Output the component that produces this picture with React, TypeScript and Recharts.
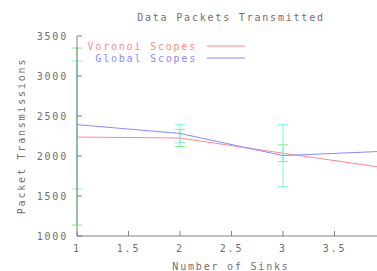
import React from 'react';
import { LineChart, Line, XAxis, YAxis, ErrorBar } from 'recharts';

// Number of sinks
const SINKS = [1, 2, 3, 4];
// mean packet transmissions
const VORONOI = [2237, 2225, 2035, 1850];
const GLOBAL = [2392, 2282, 2005, 2060];
// error bar extents [below, above] the mean
const VORONOI_ERR: [number, number][] = [[1100, 1113], [108, 108], [104, 104], [0, 0]];
const GLOBAL_ERR: [number, number][] = [[805, 795], [116, 114], [388, 391], [0, 0]];

const X_TICKS = [1, 1.5, 2, 2.5, 3, 3.5];
const Y_TICKS = [1000, 1500, 2000, 2500, 3000, 3500];

const SERIES = [
    { name: 'Voronoi Scopes', color: '#ff8a8a' },
    { name: 'Global Scopes', color: '#8a8aff' },
];

const data = SINKS.map((x, i) => ({
    x,
    voronoi: VORONOI[i],
    global: GLOBAL[i],
    vErr: VORONOI_ERR[i],
    gErr: GLOBAL_ERR[i],
}));

const FONT = '"DejaVu Sans Mono", monospace';
const TEXT = '#707070';
const AXIS = '#808080';

const BottomTick = (props: any) => {
    const { x, y, payload } = props;
    return (
        <g>
            <line x1={x} y1={y} x2={x} y2={y - 5} stroke={AXIS} />
            <text x={x} y={y + 16} textAnchor="middle" fill={TEXT} fontSize={10} fontFamily={FONT} letterSpacing={1.8}>
                {payload.value}
            </text>
        </g>
    );
};

const TopTick = (props: any) => {
    const { x, y } = props;
    return <line x1={x} y1={y} x2={x} y2={y + 5} stroke={AXIS} />;
};

const LeftTick = (props: any) => {
    const { x, y, payload } = props;
    return (
        <g>
            <line x1={x} y1={y} x2={x + 5} y2={y} stroke={AXIS} />
            <text x={x - 9} y={y + 4} textAnchor="end" fill={TEXT} fontSize={10} fontFamily={FONT} letterSpacing={1.8}>
                {payload.value}
            </text>
        </g>
    );
};

// the original image is cropped just short of x = 4, so the chart is drawn wider and cut off
export default function App() {
    return (
        <div style={{ position: 'absolute', left: 0, top: 0, width: 377, height: 271, overflow: 'hidden', background: '#fff' }}>
            <LineChart width={386} height={271} data={data} margin={{ top: 36, right: 0, bottom: 10, left: 17 }}>
                <text x={231} y={21} textAnchor="middle" fill={TEXT} fontSize={10} fontFamily={FONT} letterSpacing={1.8}>
                    Data Packets Transmitted
                </text>
                <text x={231} y={270} textAnchor="middle" fill={TEXT} fontSize={10} fontFamily={FONT} letterSpacing={1.8}>
                    Number of Sinks
                </text>
                <text
                    x={25}
                    y={136}
                    transform="rotate(-90 25 136)"
                    textAnchor="middle"
                    fill={TEXT}
                    fontSize={10}
                    fontFamily={FONT}
                    letterSpacing={1.8}
                >
                    Packet Transmissions
                </text>
                {SERIES.map((s, i) => (
                    <g key={s.name}>
                        <text x={197} y={50 + i * 12} textAnchor="end" fill={s.color} fontSize={10} fontFamily={FONT} letterSpacing={1.8}>
                            {s.name}
                        </text>
                        <line x1={207} y1={46 + i * 12} x2={245} y2={46 + i * 12} stroke={s.color} />
                    </g>
                ))}
                <XAxis
                    dataKey="x"
                    type="number"
                    domain={[1, 4]}
                    ticks={X_TICKS}
                    interval={0}
                    height={25}
                    tickSize={0}
                    tickMargin={0}
                    tickLine={false}
                    axisLine={{ stroke: AXIS }}
                    tick={<BottomTick />}
                />
                <XAxis
                    xAxisId="top"
                    orientation="top"
                    dataKey="x"
                    type="number"
                    domain={[1, 4]}
                    ticks={X_TICKS}
                    interval={0}
                    height={0}
                    tickSize={0}
                    tickMargin={0}
                    tickLine={false}
                    axisLine={{ stroke: AXIS }}
                    tick={<TopTick />}
                />
                <YAxis
                    type="number"
                    domain={[1000, 3500]}
                    ticks={Y_TICKS}
                    interval={0}
                    width={60}
                    tickSize={0}
                    tickMargin={0}
                    tickLine={false}
                    axisLine={{ stroke: AXIS }}
                    tick={<LeftTick />}
                />
                <Line dataKey="voronoi" stroke="#ff8a8a" strokeWidth={1} dot={false} isAnimationActive={false}>
                    <ErrorBar dataKey="vErr" direction="y" width={5} stroke="#80ee80" strokeWidth={1} />
                </Line>
                <Line dataKey="global" stroke="#8a8aff" strokeWidth={1} dot={false} isAnimationActive={false}>
                    <ErrorBar dataKey="gErr" direction="y" width={5} stroke="#80f0f0" strokeWidth={1} />
                </Line>
            </LineChart>
        </div>
    );
}
